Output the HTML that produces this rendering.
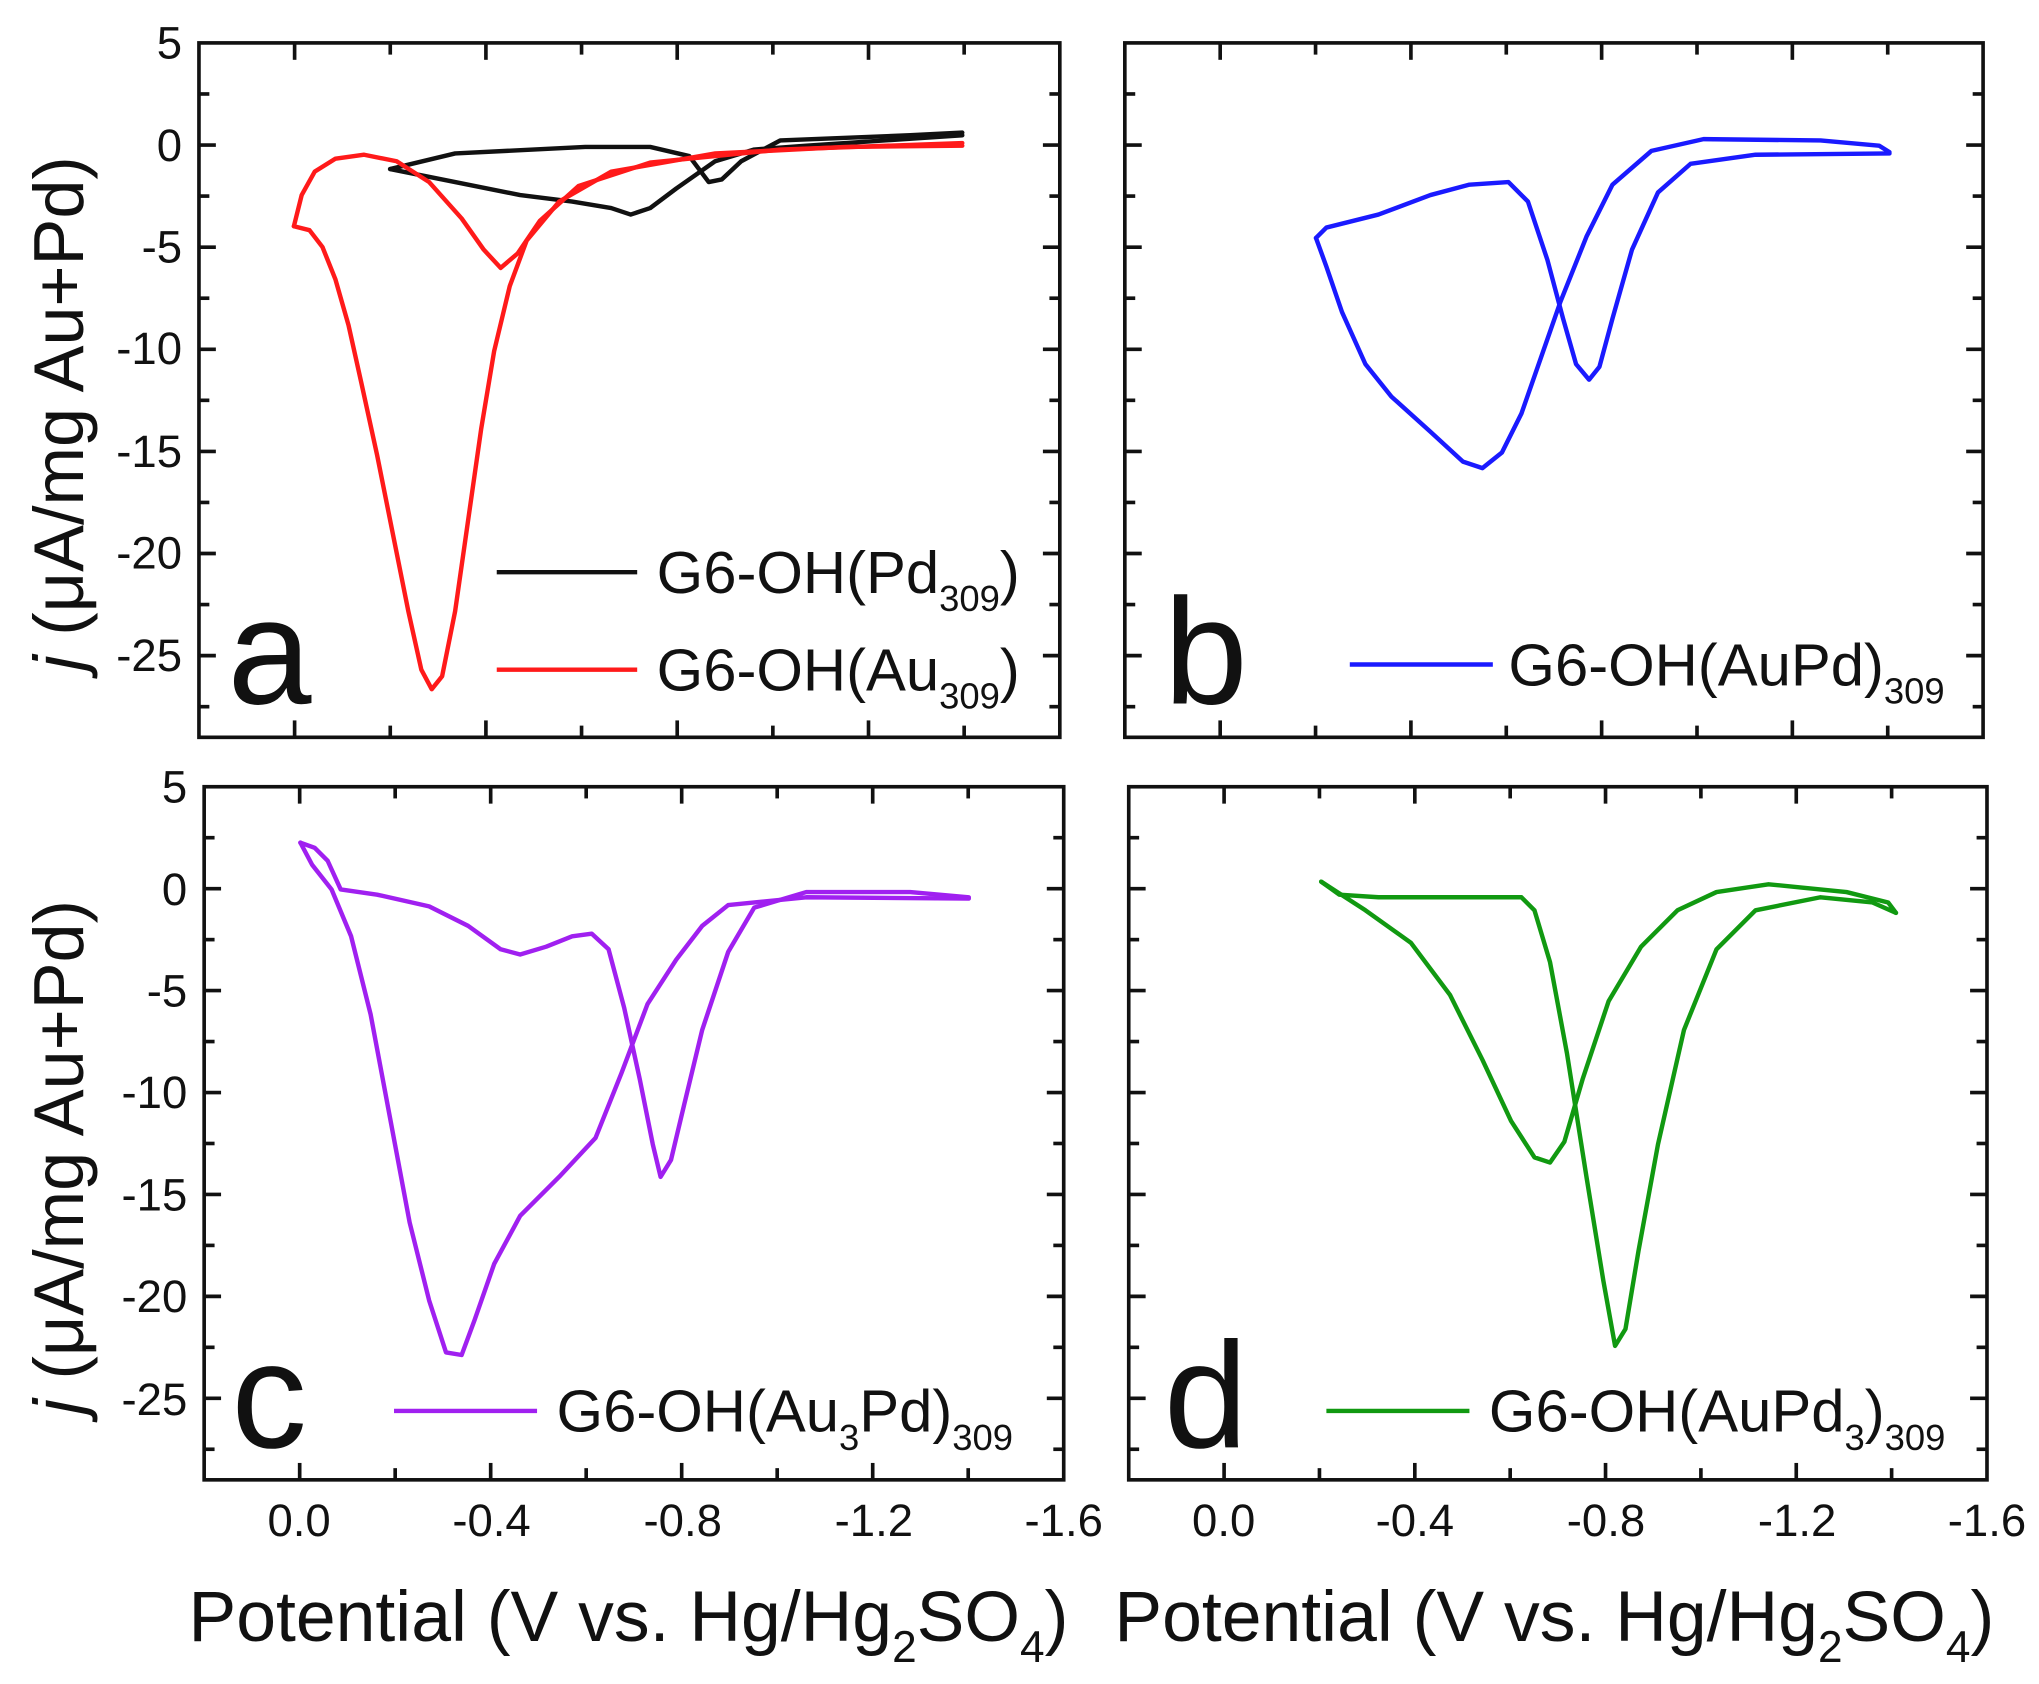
<!DOCTYPE html>
<html><head><meta charset="utf-8"><style>
html,body{margin:0;padding:0;background:#fff}
svg{display:block}
text{font-family:"Liberation Sans",sans-serif;fill:#111}
</style></head><body>
<svg id="s" width="2039" height="1684" viewBox="0 0 1568 1295" preserveAspectRatio="none" xmlns="http://www.w3.org/2000/svg">
<g id="frames" fill="none" stroke="#111" stroke-width="2.8"></g>
<g fill="none" stroke-width="3.4" stroke-linejoin="round" stroke-linecap="round">
<polyline stroke="#111" points="300,130 350,118 450,113 500,113 530,120 545,140 555,138 570,124 600,108 700,104 740,102"/>
<polyline stroke="#111" points="300,130 350,140 400,150 440,155 470,160 485,165 500,160 520,145 550,124 580,115 620,112 740,104"/>
<polyline stroke="#ff1a1a" points="226,174 238,177 248,190 258,215 268,250 278,295 290,350 302,410 314,470 324,515 332,530 340,520 350,470 360,400 370,330 380,270 392,220 405,185 430,155 470,132 550,118 650,113 740,112"/>
<polyline stroke="#ff1a1a" points="226,174 232,150 242,132 258,122 280,119 305,124 330,140 355,168 372,192 385,206 398,195 415,170 445,143 500,125 600,115 740,110"/>
<polyline stroke="#1a1aff" points="1012,183 1020,205 1032,240 1050,280 1070,305 1100,332 1125,355 1140,360 1155,348 1170,318 1185,275 1200,232 1220,182 1240,142 1270,116 1310,107 1400,108 1445,112 1453,117"/>
<polyline stroke="#1a1aff" points="1012,183 1020,175 1060,165 1100,150 1130,142 1160,140 1175,155 1190,200 1202,245 1212,280 1222,292 1230,282 1240,245 1255,192 1275,148 1300,126 1350,119 1453,118"/>
<polyline stroke="#a020f0" points="231,648 242,652 252,662 262,684 290,688 330,697 360,712 385,730 400,734 420,728 440,720 455,718 468,730 480,775 492,830 502,880 508,905 516,892 526,850 540,792 560,732 580,698 620,686 700,686 745,690"/>
<polyline stroke="#a020f0" points="231,648 240,665 255,684 270,720 285,780 300,860 315,940 330,1000 343,1040 355,1042 365,1015 380,972 400,935 430,905 458,875 478,825 498,772 520,738 540,712 560,696 620,690 745,691"/>
<polyline stroke="#119911" points="1016,678 1030,688 1060,690 1120,690 1170,690 1180,700 1192,740 1205,810 1220,905 1233,985 1242,1035 1250,1022 1260,962 1275,880 1295,792 1320,730 1350,700 1400,690 1440,694 1458,702"/>
<polyline stroke="#119911" points="1016,678 1050,700 1085,725 1115,765 1140,815 1162,862 1180,890 1192,894 1203,878 1217,830 1237,770 1262,728 1290,700 1320,686 1360,680 1420,686 1452,694 1458,702"/>
</g>
<g stroke-width="3.4">
<line x1="382" y1="440" x2="490" y2="440" stroke="#111"/>
<line x1="382" y1="515" x2="490" y2="515" stroke="#ff1a1a"/>
<line x1="1038" y1="511" x2="1148" y2="511" stroke="#1a1aff"/>
<line x1="303" y1="1085" x2="413" y2="1085" stroke="#a020f0"/>
<line x1="1020" y1="1085" x2="1130" y2="1085" stroke="#119911"/>
</g>
<g font-size="46">
<text x="505" y="456">G6-OH(Pd<tspan font-size="28" dy="14">309</tspan><tspan dy="-14">)</tspan></text>
<text x="505" y="531">G6-OH(Au<tspan font-size="28" dy="14">309</tspan><tspan dy="-14">)</tspan></text>
<text x="1160" y="527">G6-OH(AuPd)<tspan font-size="28" dy="14">309</tspan></text>
<text x="428" y="1101">G6-OH(Au<tspan font-size="28" dy="14">3</tspan><tspan dy="-14">Pd)</tspan><tspan font-size="28" dy="14">309</tspan></text>
<text x="1145" y="1101">G6-OH(AuPd<tspan font-size="28" dy="14">3</tspan><tspan dy="-14">)</tspan><tspan font-size="28" dy="14">309</tspan></text>
</g>
<g font-size="116" fill="#000">
<text x="175" y="541">a</text><text x="895" y="541">b</text>
<text x="178" y="1113">c</text><text x="895" y="1113">d</text>
</g>
<g font-size="35" text-anchor="end">
<text x="140" y="45">5</text><text x="140" y="124">0</text><text x="140" y="202">-5</text><text x="140" y="280">-10</text><text x="140" y="359">-15</text><text x="140" y="437">-20</text><text x="140" y="516">-25</text>
<text x="144" y="617">5</text><text x="144" y="696">0</text><text x="144" y="774">-5</text><text x="144" y="852">-10</text><text x="144" y="931">-15</text><text x="144" y="1009">-20</text><text x="144" y="1088">-25</text>
</g>
<g font-size="35" text-anchor="middle">
<text x="230" y="1181">0.0</text><text x="378" y="1181">-0.4</text><text x="525" y="1181">-0.8</text><text x="672" y="1181">-1.2</text><text x="818" y="1181">-1.6</text>
<text x="941" y="1181">0.0</text><text x="1088" y="1181">-0.4</text><text x="1235" y="1181">-0.8</text><text x="1382" y="1181">-1.2</text><text x="1528" y="1181">-1.6</text>
</g>
<g font-size="55">
<text x="145" y="1262">Potential (V vs. Hg/Hg<tspan font-size="34" dy="16">2</tspan><tspan dy="-16">SO</tspan><tspan font-size="34" dy="16">4</tspan><tspan dy="-16">)</tspan></text>
<text x="857" y="1262">Potential (V vs. Hg/Hg<tspan font-size="34" dy="16">2</tspan><tspan dy="-16">SO</tspan><tspan font-size="34" dy="16">4</tspan><tspan dy="-16">)</tspan></text>
</g>
<g font-size="54">
<text transform="translate(64,318) rotate(-90)" text-anchor="middle"><tspan font-style="italic">j</tspan> (μA/mg Au+Pd)</text>
<text transform="translate(64,890) rotate(-90)" text-anchor="middle"><tspan font-style="italic">j</tspan> (μA/mg Au+Pd)</text>
</g>
</svg>
<script>
var g=document.getElementById('frames'),ns='http://www.w3.org/2000/svg';
function ln(a,b,c,d){var l=document.createElementNS(ns,'line');l.setAttribute('x1',a);l.setAttribute('y1',b);l.setAttribute('x2',c);l.setAttribute('y2',d);g.appendChild(l);}
[[153,33,815,567],[865,33,1525,567],[157,605,818,1138],[868,605,1528,1138]].forEach(function(p){
var r=document.createElementNS(ns,'rect');r.setAttribute('x',p[0]);r.setAttribute('y',p[1]);r.setAttribute('width',p[2]-p[0]);r.setAttribute('height',p[3]-p[1]);g.appendChild(r);
var dx=(p[2]-p[0])/9;for(var k=1;k<9;k++){var x=p[0]+k*dx,L=(k%2)?13:9;ln(x,p[3],x,p[3]-L);ln(x,p[1],x,p[1]+L);}
var dy=(p[3]-p[1])/34*2.5;for(var k=1;k*dy<p[3]-p[1]-1;k++){var y=p[1]+k*dy,L=(k%2)?8:13;ln(p[0],y,p[0]+L,y);ln(p[2],y,p[2]-L,y);}
});
</script>
</body></html>
